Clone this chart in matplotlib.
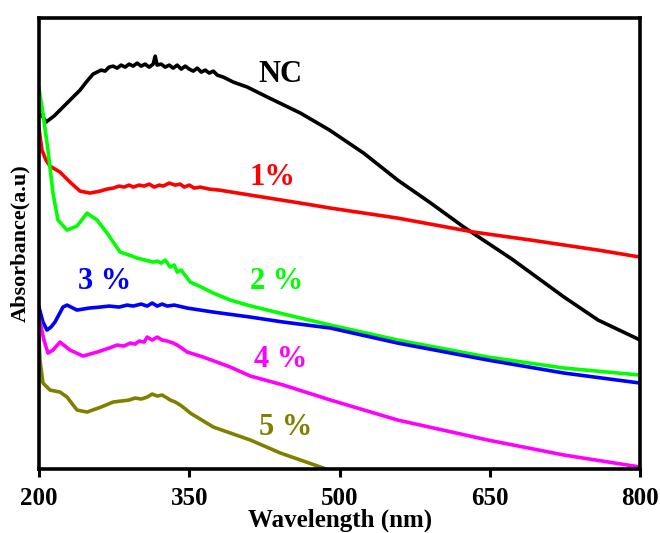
import matplotlib
matplotlib.use("Agg")
import matplotlib.pyplot as plt

# Wavelength (nm) and absorbance (a.u.)
wl_nc = [200, 207, 215, 224, 232, 241, 248, 254, 258, 262, 266, 270, 274, 278, 282, 286,
         290, 294, 298, 302, 306, 310, 314, 316, 318, 322, 326, 330, 334, 338, 342, 346,
         350, 354, 358, 362, 366, 370, 374, 378, 384, 394, 408, 428, 461, 490, 524, 558,
         591, 624, 672, 724, 758, 800]
abs_nc = [3.59, 3.47, 3.53, 3.62, 3.70, 3.79, 3.88, 3.95, 3.97, 3.99, 3.98, 4.02, 4.03, 4.01, 4.04, 4.02,
          4.05, 4.03, 4.06, 4.03, 4.05, 4.02, 4.05, 4.13, 4.04, 4.05, 4.02, 4.04, 4.01, 4.04, 4.00, 4.03,
          4.00, 3.98, 4.01, 3.97, 3.99, 3.96, 3.98, 3.94, 3.92, 3.87, 3.82, 3.72, 3.56, 3.39, 3.16, 2.89,
          2.66, 2.42, 2.10, 1.72, 1.49, 1.29]

wl_1 = [200, 203, 207, 211, 221, 231, 241, 251, 261, 268, 274, 280, 285, 290, 294, 300,
        305, 310, 315, 320, 324, 330, 336, 341, 345, 350, 355, 361, 370, 380, 411, 461,
        491, 558, 634, 691, 758, 800]
abs_1 = [3.41, 3.19, 3.09, 3.03, 2.97, 2.87, 2.78, 2.76, 2.78, 2.80, 2.81, 2.83, 2.82, 2.84, 2.82, 2.84,
         2.83, 2.85, 2.82, 2.84, 2.83, 2.86, 2.84, 2.85, 2.82, 2.84, 2.81, 2.82, 2.80, 2.79, 2.74, 2.66,
         2.61, 2.51, 2.37, 2.29, 2.19, 2.12]

wl_2 = [200, 204, 209, 214, 219, 228, 238, 248, 258, 268, 281, 290, 298, 306, 314, 318,
        322, 326, 331, 335, 338, 342, 345, 351, 362, 374, 391, 408, 428, 461, 491, 558,
        648, 724, 800]
abs_2 = [3.81, 3.56, 3.19, 2.76, 2.49, 2.39, 2.43, 2.56, 2.49, 2.36, 2.17, 2.14, 2.11, 2.09, 2.07, 2.08,
         2.06, 2.09, 2.02, 2.04, 1.97, 1.99, 1.95, 1.87, 1.82, 1.76, 1.69, 1.64, 1.59, 1.51, 1.44, 1.29,
         1.12, 1.01, 0.94]

wl_3 = [200, 204, 208, 212, 216, 224, 228, 238, 250, 261, 270, 280, 288, 294, 302, 308,
        313, 318, 323, 328, 335, 348, 374, 411, 444, 491, 558, 648, 724, 800]
abs_3 = [1.62, 1.47, 1.39, 1.42, 1.47, 1.62, 1.64, 1.59, 1.61, 1.62, 1.63, 1.62, 1.64, 1.63, 1.65, 1.63,
         1.66, 1.63, 1.65, 1.63, 1.64, 1.61, 1.57, 1.52, 1.47, 1.41, 1.26, 1.09, 0.96, 0.86]

wl_4 = [200, 205, 209, 214, 221, 231, 244, 258, 270, 278, 285, 291, 296, 300, 305, 308,
        313, 318, 323, 328, 334, 338, 341, 348, 364, 391, 411, 444, 491, 558, 648, 724,
        800]
abs_4 = [1.52, 1.29, 1.16, 1.19, 1.27, 1.19, 1.13, 1.17, 1.21, 1.24, 1.23, 1.26, 1.25, 1.28, 1.27, 1.32,
         1.29, 1.32, 1.29, 1.28, 1.26, 1.24, 1.22, 1.17, 1.12, 1.02, 0.93, 0.84, 0.69, 0.49, 0.29, 0.14,
         0.02]

wl_5 = [200, 201, 204, 208, 211, 221, 228, 238, 248, 262, 274, 282, 290, 296, 302, 308,
        313, 318, 323, 328, 331, 336, 341, 345, 351, 374, 411, 441, 481, 495]
abs_5 = [1.32, 1.09, 0.86, 0.82, 0.79, 0.77, 0.72, 0.59, 0.57, 0.62, 0.67, 0.68, 0.69, 0.71, 0.70, 0.72,
         0.75, 0.73, 0.74, 0.71, 0.69, 0.67, 0.64, 0.61, 0.56, 0.42, 0.29, 0.16, 0.02, -0.03]

series = [
    (wl_nc, abs_nc, "black", "NC", 441, 3.95),
    (wl_1, abs_1, "#ff0000", "1%", 433, 2.92),
    (wl_2, abs_2, "#00ff00", "2 %", 437, 1.88),
    (wl_3, abs_3, "#0000ff", "3 %", 266, 1.88),
    (wl_4, abs_4, "#ff00ff", "4 %", 441, 1.10),
    (wl_5, abs_5, "#808000", "5 %", 446, 0.42),
]

plt.rcParams['font.family'] = ['Liberation Serif', 'DejaVu Serif']
plt.rcParams['font.weight'] = 'bold'

fig = plt.figure(figsize=(6.6, 5.33), dpi=100)
ax = fig.add_axes([0.059, 0.120, 0.911, 0.846])

for wl, ab, col, lab, tx, ty in series:
    ax.plot(wl, ab, color=col, lw=2.6)
    ax.text(tx, ty, lab, color=col, fontsize=22, fontweight='bold',
            ha='center', va='center')

ax.set_xlim(200, 800)
ax.set_ylim(0, 4.51)
ax.set_xticks([200, 350, 500, 650, 800])
ax.set_yticks([])
ax.tick_params(axis='x', direction='out', length=6, width=2.2, labelsize=18, pad=7)
for lbl in ax.get_xticklabels():
    lbl.set_fontweight('bold')
for sp in ax.spines.values():
    sp.set_linewidth(2.6)

ax.set_xlabel('Wavelength (nm)', fontsize=18, fontweight='bold', labelpad=-1)
ax.set_ylabel('Absorbance(a.u)', fontsize=16, fontweight='bold', labelpad=6)

fig.savefig('out.png', dpi=100)
